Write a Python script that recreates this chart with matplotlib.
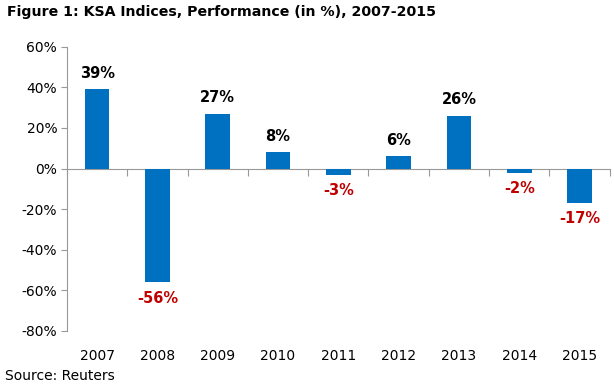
import matplotlib.pyplot as plt
from matplotlib.ticker import FuncFormatter

years = ["2007", "2008", "2009", "2010", "2011", "2012", "2013", "2014", "2015"]
performance = [39, -56, 27, 8, -3, 6, 26, -2, -17]
labels = ["39%", "-56%", "27%", "8%", "-3%", "6%", "26%", "-2%", "-17%"]

plt.rcParams['font.family'] = ['DejaVu Sans']
fig = plt.figure(figsize=(6.14, 3.87), dpi=100)
ax = fig.add_axes([0.109, 0.145, 0.884, 0.734])

x = list(range(len(years)))
ax.bar(x, performance, width=0.41, color="#0070C0", zorder=2)

ymin, ymax = -80, 60
ax.set_ylim(ymin, ymax)
ax.set_xlim(-0.5, len(years) - 0.5)
ax.set_yticks(range(-80, 61, 20))
ax.yaxis.set_major_formatter(FuncFormatter(lambda v, p: f"{int(v)}%"))
ax.set_xticks(x)
ax.set_xticklabels(years)
ax.tick_params(axis="x", length=0, pad=13, labelsize=10)
ax.tick_params(axis="y", length=4, color="#999999", labelsize=10, pad=3)

for s in ["top", "right", "bottom"]:
    ax.spines[s].set_visible(False)
ax.spines["left"].set_color("#999999")

# zero line with category boundary ticks
zero_loc = (0 - ymin) / (ymax - ymin)
sec = ax.secondary_xaxis(zero_loc)
sec.set_xticks([i + 0.5 for i in range(-1, len(years))])
sec.set_xticklabels([])
sec.tick_params(axis="x", direction="in", length=5, color="#999999")
for sp in sec.spines.values():
    sp.set_color("#999999")
sec.set_zorder(1)

for xi, v, lab in zip(x, performance, labels):
    if v >= 0:
        ax.annotate(lab, (xi, v), xytext=(0, 6), textcoords="offset points",
                    ha="center", va="bottom", fontsize=10.5, fontweight="bold", color="black")
    else:
        ax.annotate(lab, (xi, v), xytext=(0, -6), textcoords="offset points",
                    ha="center", va="top", fontsize=10.5, fontweight="bold", color="#C00000")

fig.text(0.012, 0.969, "Figure 1: KSA Indices, Performance (in %), 2007-2015",
         fontsize=10.2, fontweight="bold", ha="left", va="center",
         family=["Liberation Sans Narrow", "DejaVu Sans"])
fig.text(0.008, 0.028, "Source: Reuters", fontsize=10, ha="left", va="center")

fig.savefig("out.png", dpi=100)
